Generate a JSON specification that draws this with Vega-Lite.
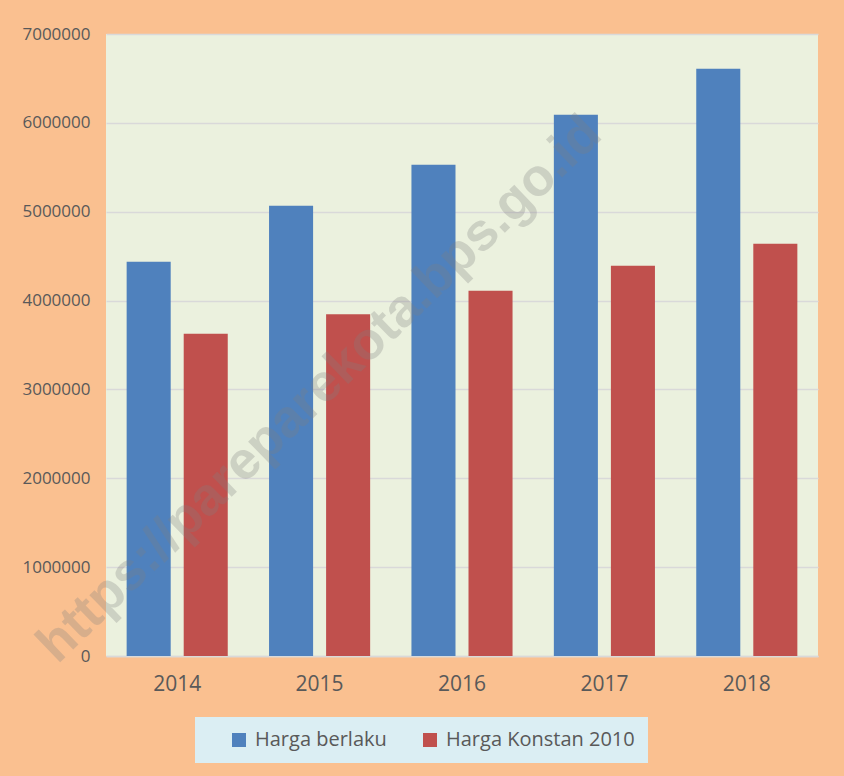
{
  "$schema": "https://vega.github.io/schema/vega-lite/v6.json",
  "width": 712,
  "height": 622,
  "autosize": "none",
  "padding": {"left": 106, "top": 34, "right": 26, "bottom": 120},
  "background": "#FAC090",
  "config": {
    "view": {"fill": "#EBF1DE", "stroke": null},
    "font": "Open Sans"
  },
  "datasets": {
    "pdrb": [
      {"year": "2014", "series": "Harga berlaku", "value": 4437000},
      {"year": "2014", "series": "Harga Konstan 2010", "value": 3626000},
      {"year": "2015", "series": "Harga berlaku", "value": 5068000},
      {"year": "2015", "series": "Harga Konstan 2010", "value": 3847000},
      {"year": "2016", "series": "Harga berlaku", "value": 5529000},
      {"year": "2016", "series": "Harga Konstan 2010", "value": 4110000},
      {"year": "2017", "series": "Harga berlaku", "value": 6092000},
      {"year": "2017", "series": "Harga Konstan 2010", "value": 4392000},
      {"year": "2018", "series": "Harga berlaku", "value": 6610000},
      {"year": "2018", "series": "Harga Konstan 2010", "value": 4640000}
    ],
    "wm": [
      {"year": "2015", "value": 3000000, "label": "https://pareparekota.bps.go.id"}
    ]
  },
  "layer": [
    {
      "data": {"name": "pdrb"},
      "mark": {"type": "bar"},
      "encoding": {
        "x": {
          "field": "year", "type": "nominal",
          "scale": {"paddingInner": 0.29, "paddingOuter": 0.145},
          "axis": {
            "title": null, "labelAngle": 0, "labelFontSize": 21, "labelColor": "#595959",
            "labelPadding": 17, "ticks": false, "domain": true, "domainColor": "#D9D9D9", "domainWidth": 1.5
          }
        },
        "xOffset": {
          "field": "series", "type": "nominal",
          "sort": ["Harga berlaku", "Harga Konstan 2010"],
          "scale": {"paddingInner": 0.228, "paddingOuter": 0}
        },
        "y": {
          "field": "value", "type": "quantitative",
          "scale": {"domain": [0, 7000000], "nice": false},
          "axis": {
            "title": null, "values": [0, 1000000, 2000000, 3000000, 4000000, 5000000, 6000000, 7000000],
            "format": "d", "labelFontSize": 17, "labelColor": "#595959", "labelPadding": 16,
            "ticks": false, "domain": false, "grid": true, "gridColor": "#D9D9D9", "gridWidth": 1.5
          }
        },
        "color": {
          "field": "series", "type": "nominal",
          "scale": {"domain": ["Harga berlaku", "Harga Konstan 2010"], "range": ["#4F81BD", "#C0504D"]},
          "legend": {
            "title": null, "orient": "none", "direction": "horizontal",
            "legendX": 89, "legendY": 683,
            "fillColor": "#DBEEF3", "padding": 13,
            "symbolType": "square", "symbolSize": 196, "symbolStrokeWidth": 0, "symbolOffset": 21,
            "labelFontSize": 20, "labelColor": "#595959", "labelOffset": 6, "labelLimit": 400, "columnPadding": 12
          }
        }
      }
    },
    {
      "data": {"name": "wm"},
      "mark": {
        "type": "text", "angle": 316, "fontSize": 53, "fontWeight": "bold", "font": "Liberation Sans",
        "color": "#808080", "opacity": 0.28, "align": "center", "baseline": "middle"
      },
      "encoding": {
        "x": {"field": "year", "type": "nominal"},
        "y": {"field": "value", "type": "quantitative"},
        "text": {"field": "label"}
      }
    }
  ]
}
